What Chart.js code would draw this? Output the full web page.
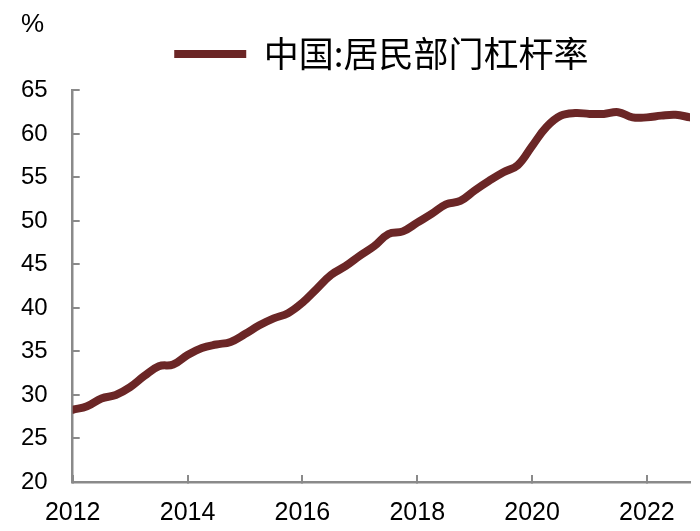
<!DOCTYPE html>
<html>
<head>
<meta charset="utf-8">
<script src="https://cdn.jsdelivr.net/npm/chart.js@4.4.1/dist/chart.umd.min.js"></script>
<style>
  html, body { margin: 0; padding: 0; background: #fff; }
  #wrap { width: 700px; height: 531px; }
</style>
</head>
<body>
<div id="wrap"><canvas id="chart" width="700" height="531"></canvas></div>
<script>
// Квартальные данные: 2012Q1 ... 2022Q4
const startYear = 2012;
const seriesName = '中国:居民部门杠杆率';
const leverage = [
    28.3, 28.7, 29.6, 30.0,
    30.9, 32.2, 33.3, 33.5,
    34.6, 35.4, 35.8, 36.1,
    37.0, 38.0, 38.8, 39.4,
    40.6, 42.2, 43.8, 44.8,
    46.0, 47.1, 48.5, 48.8,
    49.8, 50.8, 51.9, 52.3,
    53.5, 54.6, 55.6, 56.4,
    58.6, 60.8, 62.1, 62.4,
    62.3, 62.3, 62.5, 61.9,
    61.9, 62.1, 62.2, 61.9
];
const yTicks = { min: 20, max: 65, step: 5 };
const xTicks = { min: 2012, max: 2022.75, step: 2 };

// Точки: x = год + (квартал - 1) / 4
const points = leverage.map((v, i) => ({ x: startYear + i / 4, y: v }));

const lineColor = '#6B2626';
const axisColor = '#8a8a8a';

const ctx = document.getElementById('chart').getContext('2d');
new Chart(ctx, {
    type: 'line',
    data: {
        datasets: [{
            label: seriesName,
            data: points,
            borderColor: lineColor,
            backgroundColor: lineColor,
            borderWidth: 8,
            borderCapStyle: 'round',
            borderJoinStyle: 'round',
            pointRadius: 0,
            pointStyle: 'line',
            tension: 0.4,
            fill: false
        }]
    },
    options: {
        responsive: false,
        animation: false,
        layout: { padding: { left: 21, right: 10, top: 0, bottom: -20 } },
        plugins: {
            title: {
                display: true,
                text: '%',
                align: 'start',
                color: '#000',
                font: { family: 'Liberation Sans', size: 26, weight: 'normal', lineHeight: 0.9 },
                padding: { top: 13, bottom: 0 }
            },
            legend: {
                display: true,
                position: 'top',
                fullSize: false,
                labels: {
                    usePointStyle: true,
                    pointStyle: 'line',
                    pointStyleWidth: 72,
                    color: '#000',
                    font: { family: '"Noto Sans CJK SC", "Noto Sans", sans-serif', size: 35 },
                    padding: 0
                }
            },
            // пустой подзаголовок как отступ под легендой
            subtitle: {
                display: true,
                text: ' ',
                weight: 500,
                font: { size: 9, lineHeight: 1 },
                padding: 0
            },
            tooltip: { enabled: false }
        },
        scales: {
            x: {
                type: 'linear',
                min: xTicks.min,
                max: xTicks.max,
                afterFit: scale => {
                    scale.paddingLeft = 0;
                    scale.paddingRight = 0;
                },
                grid: {
                    drawOnChartArea: false,
                    drawTicks: true,
                    tickLength: -7,
                    color: axisColor,
                    lineWidth: 2
                },
                border: { color: axisColor, width: 2.5 },
                ticks: {
                    stepSize: xTicks.step,
                    includeBounds: false,
                    maxRotation: 0,
                    color: '#000',
                    padding: 23,
                    font: { family: 'Liberation Sans', size: 25 },
                    callback: v => String(v)
                }
            },
            y: {
                min: yTicks.min,
                max: yTicks.max,
                afterFit: scale => {
                    scale.paddingTop = 12;
                    scale.paddingBottom = 12;
                },
                grid: {
                    drawOnChartArea: false,
                    drawTicks: true,
                    tickLength: -7,
                    color: axisColor,
                    lineWidth: 2
                },
                border: { color: axisColor, width: 2.5 },
                ticks: {
                    stepSize: yTicks.step,
                    crossAlign: 'far',
                    color: '#000',
                    padding: 16,
                    font: { family: 'Liberation Sans', size: 24 }
                }
            }
        }
    }
});
</script>
</body>
</html>
